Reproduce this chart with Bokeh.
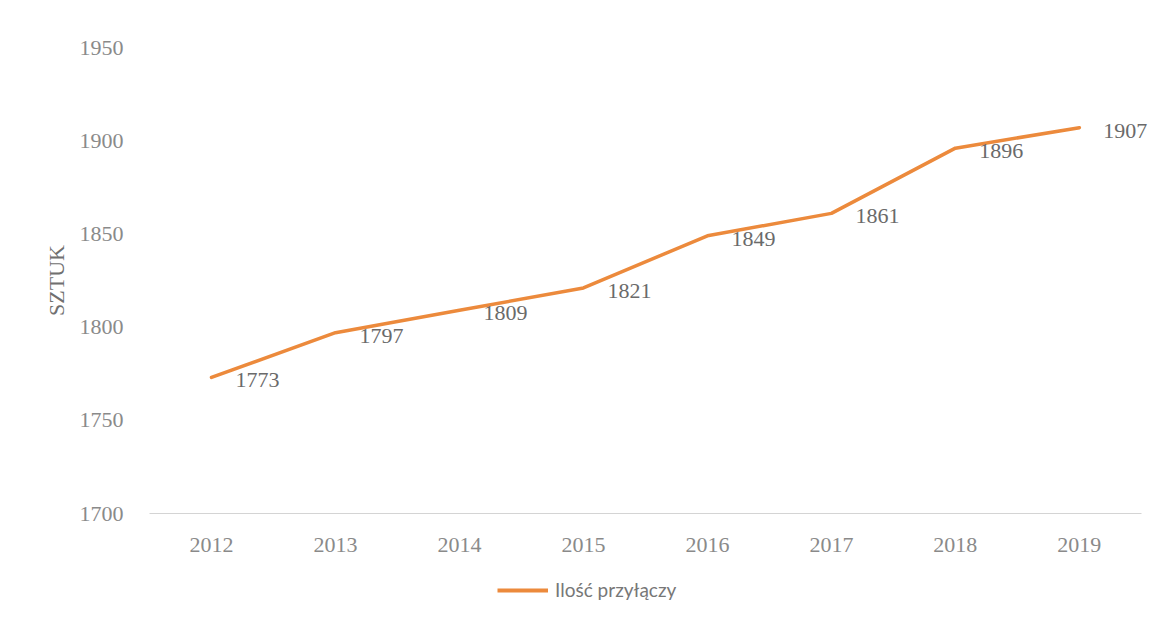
from bokeh.plotting import figure
from bokeh.layouts import column
from bokeh.models import ColumnDataSource, Range1d, FixedTicker, Legend, LegendItem
from bokeh.core.properties import value
from bokeh.embed import file_html
from bokeh.resources import INLINE

years = [2012, 2013, 2014, 2015, 2016, 2017, 2018, 2019]
counts = [1773, 1797, 1809, 1821, 1849, 1861, 1896, 1907]
label_texts = [str(v) for v in counts]
y_ticks = [1700, 1750, 1800, 1850, 1900, 1950]
series_name = "Ilość przyłączy"
y_title = "SZTUK"

LINE_COLOR = "#EC8A3C"
SERIF = "Liberation Serif"

src = ColumnDataSource(dict(x=years, y=counts, t=label_texts))

x_lo = years[0] - 0.5
x_hi = years[-1] + 0.5

p = figure(width=1152, height=560, output_backend="svg", toolbar_location=None,
           x_range=Range1d(x_lo, x_hi + 0.09),
           y_range=Range1d(1700, 1950),
           min_border_left=149, min_border_right=0, min_border_top=47, min_border_bottom=47)
p.outline_line_color = None
p.background_fill_color = "white"
p.border_fill_color = "white"

p.xgrid.grid_line_color = None
p.ygrid.grid_line_color = None

# axes
p.yaxis.ticker = FixedTicker(ticks=y_ticks)
p.yaxis.axis_line_color = None
p.yaxis.major_tick_line_color = None
p.yaxis.minor_tick_line_color = None
p.yaxis.major_label_text_font = SERIF
p.yaxis.major_label_text_font_size = "22px"
p.yaxis.major_label_text_color = "#8a8a8a"
p.yaxis.major_label_standoff = 20
p.yaxis.axis_label = y_title
p.yaxis.axis_label_text_font = SERIF
p.yaxis.axis_label_text_font_style = "normal"
p.yaxis.axis_label_text_font_size = "22px"
p.yaxis.axis_label_text_color = "#707070"
p.yaxis.axis_label_standoff = 8

p.xaxis.ticker = FixedTicker(ticks=years)
p.xaxis.bounds = (x_lo, x_hi)
p.xaxis.axis_line_color = "#d4d4d4"
p.xaxis.axis_line_width = 1
p.xaxis.major_tick_line_color = None
p.xaxis.minor_tick_line_color = None
p.xaxis.major_label_text_font = SERIF
p.xaxis.major_label_text_font_size = "22px"
p.xaxis.major_label_text_color = "#8a8a8a"
p.xaxis.major_label_standoff = 18

p.line("x", "y", source=src, line_color=LINE_COLOR, line_width=3.5, line_cap="round", line_join="round")

p.text("x", "y", text="t", source=src, x_offset=24, y_offset=3,
       text_font=value(SERIF), text_font_size="22px", text_color="#6a6a6a",
       text_align="left", text_baseline="middle")

# legend strip below the chart
lf = figure(width=1152, height=62, output_backend="svg", toolbar_location=None,
            x_axis_location=None, y_axis_location=None,
            min_border_left=0, min_border_right=0, min_border_top=0, min_border_bottom=0)
lf.outline_line_color = None
lf.xgrid.grid_line_color = None
lf.ygrid.grid_line_color = None
proxy = lf.line(x=[float("nan")], y=[float("nan")], line_color=LINE_COLOR, line_width=4)
legend = Legend(items=[LegendItem(label=series_name, renderers=[proxy])],
                location=(348, 21), orientation="horizontal",
                glyph_width=51, glyph_height=14, label_standoff=7, padding=0, margin=0,
                label_text_font="Lato", label_text_font_size="19px", label_text_color="#777777",
                background_fill_alpha=0, border_line_color=None)
lf.add_layout(legend, "center")

layout = column(p, lf, spacing=0)
open("out.html", "w").write(file_html(layout, INLINE))
